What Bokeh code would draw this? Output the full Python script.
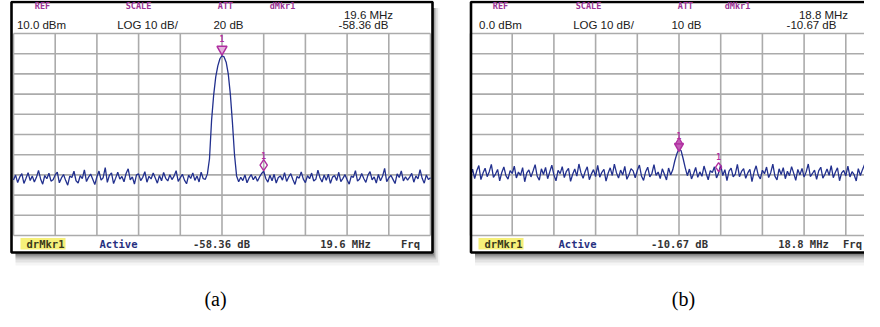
from bokeh.plotting import figure
from bokeh.models import Range1d
from bokeh.embed import file_html
from bokeh.resources import INLINE
from bokeh.core.properties import value

# ---------------- data ----------------
# frequency offset from centre, MHz (20 MHz/div, 200 MHz span)
freq_mhz = list(range(-100, 101))

trace_a = [
    -62.5, -60.1, -63.8, -61.0, -59.4, -64.2, -61.7, -58.9, -62.8, -60.5,
    -63.5, -61.2, -57.8, -62.0, -64.6, -60.3, -61.9, -59.2, -63.1, -62.4,
    -60.0, -58.6, -63.9, -61.5, -59.8, -62.7, -65.1, -60.6, -61.3, -58.2,
    -62.9, -64.0, -60.4, -61.8, -57.5, -63.3, -61.1, -59.6, -62.2, -64.8,
    -60.9, -58.1, -62.6, -61.4, -56.4, -63.7, -60.2, -59.0, -64.3, -61.6,
    -58.7, -62.1, -60.8, -63.4, -59.3, -57.0, -62.5, -61.0, -64.5, -60.0,
    -59.5, -62.8, -61.2, -58.4, -63.6, -60.7, -62.0, -59.1, -61.5, -64.1,
    -60.3, -62.9, -58.8, -61.7, -63.0, -59.9, -62.3, -60.6, -57.9, -63.2,
    -61.4, -59.7, -62.6, -64.4, -60.1, -61.8, -59.0, -62.7, -60.5, -63.5,
    -58.6, -61.9, -62.2, -59.5, -52.0, -33.0, -20.5, -11.5, -6.0, -2.5,
    -1.0,
    -1.6, -4.2, -10.0, -20.0, -34.0, -50.0, -60.5, -63.4, -61.2, -62.8,
    -60.0, -63.9, -61.5, -59.8, -62.4, -60.7, -63.1, -61.0, -59.3, -58.2,
    -61.8, -63.6, -60.2, -62.9, -59.7, -64.0, -61.3, -60.5, -62.6, -58.9,
    -63.2, -61.0, -59.4, -62.3, -64.7, -60.8, -61.6, -58.5, -62.1, -63.8,
    -60.4, -61.9, -59.1, -63.0, -62.2, -57.6, -61.4, -63.5, -60.0, -62.7,
    -59.6, -64.2, -61.1, -60.3, -62.8, -58.7, -63.3, -61.7, -59.9, -62.4,
    -64.6, -60.6, -61.2, -57.9, -63.1, -62.0, -59.3, -61.8, -63.7, -60.1,
    -58.4, -62.5, -61.0, -64.0, -59.8, -62.9, -60.7, -56.8, -63.4, -61.5,
    -60.2, -62.2, -64.3, -59.5, -61.3, -58.0, -63.0, -60.9, -62.6, -61.1,
    -59.2, -63.6, -60.5, -62.0, -57.4, -61.7, -64.1, -60.0, -62.3, -61.4,
]

trace_b = [
    -70.5, -67.2, -71.8, -68.0, -65.4, -72.3, -69.1, -66.7, -70.9, -68.4,
    -64.8, -71.2, -69.6, -67.3, -73.0, -68.8, -66.1, -70.4, -72.1, -67.9,
    -69.3, -65.7, -71.5, -68.6, -70.2, -66.4, -73.4, -69.0, -67.5, -71.0,
    -68.1, -64.9, -70.7, -72.6, -67.0, -69.8, -66.3, -71.9, -68.5, -65.2,
    -70.0, -72.9, -67.7, -69.4, -65.9, -71.3, -68.2, -66.8, -73.2, -69.7,
    -67.1, -70.6, -64.6, -69.0, -71.7, -68.3, -66.0, -72.4, -69.5, -67.4,
    -70.8, -65.3, -71.1, -68.7, -67.2, -73.1, -69.2, -66.5, -70.3, -64.7,
    -68.9, -71.6, -67.6, -70.1, -65.8, -72.2, -69.9, -66.9, -68.0, -71.4,
    -67.8, -65.1, -70.5, -72.7, -68.4, -66.2, -71.0, -69.3, -64.9, -70.2,
    -68.6, -71.8, -67.0, -69.7, -72.5, -66.6, -70.0, -67.5, -63.0, -59.5,
    -57.0,
    -58.0, -62.0, -66.5, -70.4, -67.1, -72.0, -69.4, -66.3, -71.2, -68.5,
    -70.7, -65.6, -69.2, -72.4, -67.9, -68.8, -66.0, -71.5, -69.1, -65.0,
    -70.3, -67.4, -72.8, -68.1, -66.6, -71.0, -69.6, -64.8, -70.9, -68.3,
    -66.9, -71.7, -69.0, -67.2, -73.3, -68.6, -65.5, -70.1, -72.0, -67.7,
    -69.4, -66.1, -71.3, -68.9, -64.7, -70.6, -72.5, -67.0, -69.8, -66.4,
    -71.9, -68.2, -70.4, -65.9, -69.1, -72.7, -67.3, -70.0, -66.8, -71.1,
    -68.5, -64.6, -70.8, -69.3, -67.6, -72.2, -68.0, -66.2, -71.6, -69.7,
    -67.1, -70.2, -65.4, -71.4, -68.7, -66.5, -72.9, -69.0, -67.8, -70.5,
    -65.7, -71.0, -68.4, -69.9, -73.0, -66.9, -70.3, -67.4, -64.9, -71.8,
    -69.2, -66.0, -70.7, -68.1, -72.4, -67.5, -69.6, -65.3, -71.2, -68.8,
]

ref_level_a = 10.0     # dBm
ref_level_b = 0.0      # dBm
db_per_div = 10
n_div = 10

# marker frequencies (MHz offset): delta marker on peak, reference marker
mkr_peak_freq = [0]
mkr_ref_freq_a = [20]
mkr_ref_freq_b = [19]

hdr_labels = ["REF", "SCALE", "ATT", "dMkr1"]
hdr_values_a = ["10.0 dBm", "LOG 10 dB/", "20 dB"]
hdr_values_b = ["0.0 dBm", "LOG 10 dB/", "10 dB"]
mkr_read_a = ["19.6 MHz", "-58.36 dB"]
mkr_read_b = ["18.8 MHz", "-10.67 dB"]
ftr_a = ["drMkr1", "Active", "-58.36 dB", "19.6 MHz", "Frq"]
ftr_b = ["drMkr1", "Active", "-10.67 dB", "18.8 MHz", "Frq"]
captions = ["(a)", "(b)"]

# ---------------- layout (picture pixel space) ----------------
X0, X1, Y0, Y1 = 0, 864, 0, 311
W, H = X1 - X0, Y1 - Y0

p = figure(width=W, height=H, x_range=Range1d(X0, X1), y_range=Range1d(Y1, Y0),
           output_backend="svg", toolbar_location=None, min_border=0,
           x_axis_location=None, y_axis_location=None,
           background_fill_color="white", border_fill_color="white",
           outline_line_color=None)
p.grid.visible = False

GRID = {"a": (13.0, 430.0, 33.0, 235.0), "b": (470.0, 887.0, 33.0, 235.0)}
BOX = {"a": (11.0, 432.0, 1.5, 252.0), "b": (470.5, 900.0, 1.5, 252.0)}
REF = {"a": ref_level_a, "b": ref_level_b}
F0, F1 = freq_mhz[0], freq_mhz[-1]

for k in ("a", "b"):
    gx0, gx1, gy0, gy1 = GRID[k]
    ppx = (gx1 - gx0) / (F1 - F0)
    p.extra_x_ranges["f" + k] = Range1d(F0 - (gx0 - X0) / ppx, F1 + (X1 - gx1) / ppx)
    top = REF[k]
    bot = REF[k] - db_per_div * n_div
    ppy = (gy1 - gy0) / (top - bot)
    p.extra_y_ranges["d" + k] = Range1d(bot - (Y1 - gy1) / ppy, top + (gy0 - Y0) / ppy)

# shadows + panel backgrounds
for k in ("a", "b"):
    bx0, bx1, by0, by1 = BOX[k]
    for d, a in [(3, 0.22), (5, 0.16), (7, 0.11), (10, 0.07), (13, 0.04)]:
        p.quad(left=[bx0 + 4], right=[bx1 + d * 0.55], top=[by0 + 6], bottom=[by1 + d],
               fill_color="black", fill_alpha=a, line_color=None)
    p.quad(left=[bx0], right=[bx1], top=[by0], bottom=[by1],
           fill_color="white", line_color=None)

GRID_COL = "#ababab"
TRACE_COL = "#22308e"
MKR_COL = "#b02ea0"
HDR_COL = "#9a3394"

div_f = [F0 + i * (F1 - F0) / n_div for i in range(n_div + 1)]
for k, tr in (("a", trace_a), ("b", trace_b)):
    top = REF[k]
    bot = REF[k] - db_per_div * n_div
    levels = [top - i * db_per_div for i in range(n_div + 1)]
    p.segment(x0=div_f, x1=div_f, y0=[bot] * len(div_f), y1=[top] * len(div_f),
              x_range_name="f" + k, y_range_name="d" + k,
              line_color=GRID_COL, line_width=1.6)
    p.segment(x0=[F0] * len(levels), x1=[F1] * len(levels), y0=levels, y1=levels,
              x_range_name="f" + k, y_range_name="d" + k,
              line_color=GRID_COL, line_width=1.6)
    p.line(x=freq_mhz, y=tr, x_range_name="f" + k, y_range_name="d" + k,
           line_color=TRACE_COL, line_width=1.3)

# markers (placed just above the trace point at the marker frequency)
def level_at(tr, f):
    return tr[freq_mhz.index(f)]

pk_a = [level_at(trace_a, f) for f in mkr_peak_freq]
pk_b = [level_at(trace_b, f) for f in mkr_peak_freq]
rf_a = [level_at(trace_a, f) for f in mkr_ref_freq_a]
rf_b = [level_at(trace_b, f) for f in mkr_ref_freq_b]

p.scatter(x=mkr_peak_freq, y=[v + 3.2 for v in pk_a], marker="inverted_triangle", size=10,
          x_range_name="fa", y_range_name="da", line_color=MKR_COL, line_width=1.5,
          fill_color="#e3b4dc")
p.scatter(x=mkr_peak_freq, y=[v + 1.2 for v in pk_b], marker="inverted_triangle", size=9,
          x_range_name="fb", y_range_name="db", line_color=MKR_COL, line_width=1.5,
          fill_color="#c25db6")
p.scatter(x=mkr_peak_freq, y=[v + 3.4 for v in pk_b], marker="triangle", size=7,
          x_range_name="fb", y_range_name="db", line_color=MKR_COL, line_width=1.2,
          fill_color="#c25db6")
p.scatter(x=mkr_ref_freq_a, y=[v + 3.0 for v in rf_a], marker="diamond", size=11,
          x_range_name="fa", y_range_name="da", line_color=MKR_COL, line_width=1.4,
          fill_color=None)
p.scatter(x=mkr_ref_freq_b, y=[v + 3.0 for v in rf_b], marker="diamond", size=9,
          x_range_name="fb", y_range_name="db", line_color=MKR_COL, line_width=1.4,
          fill_color=None)
mk_font = value("DejaVu Sans Mono")
p.text(x=mkr_peak_freq + mkr_ref_freq_a, y=[pk_a[0] + 8.3, rf_a[0] + 8.0], text=["1", "1"],
       x_range_name="fa", y_range_name="da", text_font=mk_font, text_font_size="8px",
       text_font_style="bold", text_color=MKR_COL, text_align="center", text_baseline="middle")
p.text(x=mkr_peak_freq + mkr_ref_freq_b, y=[pk_b[0] + 6.5, rf_b[0] + 8.3], text=["1", "1"],
       x_range_name="fb", y_range_name="db", text_font=mk_font, text_font_size="8px",
       text_font_style="bold", text_color=MKR_COL, text_align="center", text_baseline="middle")

# panel borders
for k in ("a", "b"):
    bx0, bx1, by0, by1 = BOX[k]
    p.quad(left=[bx0], right=[bx1], top=[by0], bottom=[by1],
           fill_color=None, line_color="black", line_width=2.6)

# header / footer texts
mono = value("DejaVu Sans Mono")
sans = value("Liberation Sans")
HX = {"a": [42, 138, 225, 282], "b": [500, 588, 685, 737]}
VX = {"a": [41, 147, 228], "b": [500, 603, 686]}
MX = {"a": [368, 363], "b": [823, 811]}
FX = {"a": [45, 118, 221, 345, 410], "b": [503, 577, 679, 803, 852]}
HL = {"a": (20, 65), "b": (478, 523)}
for k, hv, mr, ft in (("a", hdr_values_a, mkr_read_a, ftr_a), ("b", hdr_values_b, mkr_read_b, ftr_b)):
    p.text(x=HX[k], y=[5.5] * 4, text=hdr_labels, text_font=mono, text_font_size="8.5px",
           text_font_style="bold", text_color=HDR_COL, text_align="center", text_baseline="middle")
    p.text(x=VX[k], y=[24.5] * 3, text=hv, text_font=sans, text_font_size="11.5px",
           text_color="#202020", text_align="center", text_baseline="middle")
    p.text(x=MX[k], y=[14.5, 24.5], text=mr, text_font=sans, text_font_size="11.5px",
           text_color="#202020", text_align="center", text_baseline="middle")
    p.quad(left=[HL[k][0]], right=[HL[k][1]], top=[237.5], bottom=[249],
           fill_color="#f6f07a", line_color=None)
    p.text(x=FX[k], y=[243.5] * 5, text=ft, text_font=mono, text_font_size="10.5px",
           text_font_style="bold", text_align="center", text_baseline="middle",
           text_color=["#3a3a1a", "#27307f", "#333333", "#333333", "#333333"])

p.text(x=[215, 683], y=[309, 309], text=captions, text_font=value("Liberation Serif"),
       text_font_size="20px", text_color="black", text_align="center",
       text_baseline="bottom")

open("out.html", "w").write(file_html(p, INLINE))
